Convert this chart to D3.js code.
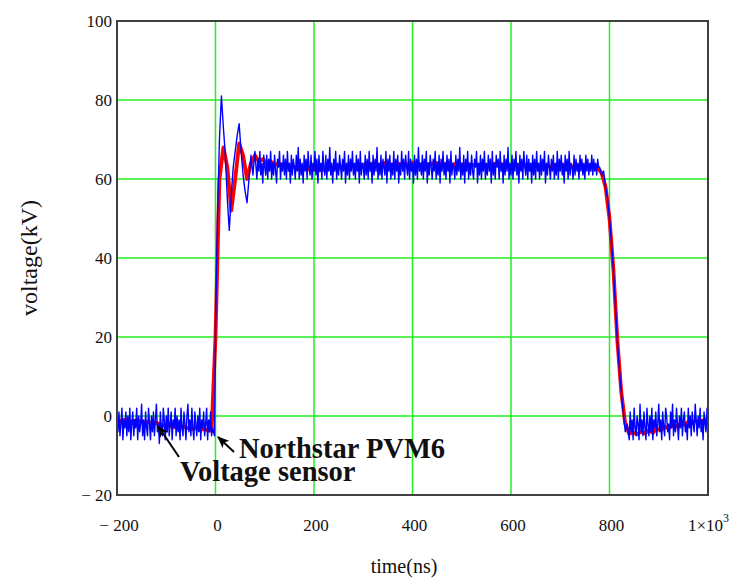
<!DOCTYPE html>
<html><head><meta charset="utf-8">
<script src="https://cdn.jsdelivr.net/npm/d3@7"></script>
<style>body{margin:0;background:#fff}svg{display:block}</style>
</head><body><svg id="c" width="734" height="578"></svg>
<script>
// ---- data (time in ns, voltage in kV) ----
const xTicks = [-200, 0, 200, 400, 600, 800, 1000];
const xTickLabels = ["\u2212 200", "0", "200", "400", "600", "800", "1\u00d710"];
const yTicks = [-20, 0, 20, 40, 60, 80, 100];
const yTickLabels = ["\u2212 20", "0", "20", "40", "60", "80", "100"];
const seriesNames = ["Northstar PVM6", "Voltage sensor"];

// blue: voltage sensor
const bluePre = [ // t = -200 .. -2, every 2 ns
  -1, -4, 1, -5, -2, 2, -6, -1, -3, 1,
  -5, 0, -4, 2, -6, -2, 1, -5, -1, -3,
  2, -6, 0, -4, -2, 3, -5, -1, -6, 1,
  -3, -5, 2, -2, -6, 0, -4, 1, -5, -1,
  3, -4, -2, -7, 1, -3, -5, 2, -1, -6,
  0, -4, 2, -5, -2, 1, -6, -1, -3, 2,
  -5, 0, -4, -1, -6, 2, -3, -5, 1, -2,
  -6, 0, 3, -4, -1, -5, 2, -3, -6, 1,
  -2, -5, 0, -4, 2, -6, -1, -3, 1, -5,
  -2, 2, -6, -1, -4, 1, -5, -3, -4, -5];
const blueRise = [ // t = 0 .. 80, every 4 ns
  22, 50, 70, 81, 73, 66, 55, 47, 56, 63, 67, 71, 74, 67, 61, 57, 54, 60, 66, 61, 67];
const bluePlateau = [ // t = 84 .. 778, every 2 ns
  60, 65, 62, 67, 61, 64, 59, 66, 63, 61,
  66, 60, 65, 62, 67, 60, 64, 61, 66, 62,
  59, 65, 63, 67, 60, 64, 62, 66, 61, 65,
  60, 67, 62, 64, 59, 66, 61, 65, 63, 60,
  66, 62, 68, 60, 65, 61, 64, 59, 66, 62,
  65, 60, 67, 63, 61, 66, 60, 64, 62, 67,
  61, 65, 59, 66, 62, 64, 60, 67, 63, 61,
  66, 60, 65, 62, 68, 61, 64, 59, 65, 62,
  67, 60, 64, 61, 66, 63, 60, 65, 62, 67,
  59, 64, 61, 66, 60, 65, 62, 67, 61, 64,
  60, 66, 62, 65, 59, 67, 61, 64, 63, 60,
  66, 61, 65, 60, 67, 62, 64, 59, 66, 61,
  65, 62, 68, 60, 64, 61, 66, 60, 65, 63,
  61, 67, 59, 65, 62, 66, 60, 64, 61, 67,
  60, 65, 62, 66, 59, 64, 61, 67, 62, 65,
  60, 66, 63, 61, 67, 60, 65, 62, 64, 59,
  66, 61, 65, 60, 68, 62, 64, 61, 66, 60,
  65, 62, 67, 59, 64, 61, 66, 63, 60, 65,
  62, 67, 60, 64, 61, 66, 59, 65, 62, 67,
  61, 64, 60, 66, 62, 65, 59, 67, 61, 64,
  63, 60, 66, 61, 65, 62, 68, 60, 64, 61,
  66, 59, 65, 62, 67, 60, 64, 61, 66, 62,
  60, 65, 63, 67, 59, 64, 61, 66, 60, 65,
  62, 67, 60, 64, 61, 66, 62, 65, 59, 67,
  61, 64, 60, 66, 63, 65, 60, 67, 62, 64,
  59, 66, 61, 65, 62, 68, 60, 64, 61, 66,
  60, 65, 62, 67, 61, 64, 59, 66, 62, 65,
  60, 67, 63, 61, 66, 60, 65, 62, 64, 59,
  66, 61, 65, 60, 67, 62, 64, 60, 66, 61,
  65, 62, 67, 59, 64, 61, 66, 63, 60, 65,
  62, 66, 60, 64, 61, 67, 60, 65, 62, 66,
  61, 64, 59, 66, 62, 65, 60, 67, 61, 64,
  63, 60, 66, 61, 65, 62, 64, 60, 66, 62,
  65, 61, 64, 60, 66, 62, 65, 61, 64, 62,
  66, 61, 65, 62, 64, 61, 65, 63];
const blueFall = [ // t = 780 .. 840, every 4 ns
  63, 61, 62, 58, 55, 50, 44, 37, 28, 19, 12, 6, 1, -4, -2, -6];
const blueTail = [ // t = 842 .. 1000, every 2 ns
  1, -4, -1, -6, 2, -3, -5, 0, -2, -6,
  3, -4, -1, -5, 1, -3, -6, 2, -2, -5,
  0, -4, 2, -6, -1, -3, 1, -5, -2, 3,
  -4, -1, -6, 1, -3, -5, 2, 0, -4, -2,
  -6, 1, -3, 3, -5, -1, -4, 2, -2, -6,
  0, -3, 2, -5, -1, 1, -4, -2, -6, 2,
  -3, 0, -5, 1, -2, -4, 3, -1, -5, 0,
  -3, 2, -4, -1, -6, 1, -2, -4, 2, -3];

// red: Northstar PVM6, every 8 ns
const redPre = [ // t = -200 .. -8
  -1, -1.3, -0.9, -1.2, -1.5, -1, -1.4, -1.8, -1.5, -2, -1.7, -2.2, -2.5,
  -2.2, -2.6, -2.9, -3, -2.7, -3.1, -3.3, -3, -3.5, -3.3, -3.6, -3.8];
const redRise = [ // t = 0 .. 80
  20, 60, 68, 63, 52, 60, 69, 66, 60, 64, 66];
const redPlateau = [ // t = 88 .. 776
  64.5, 65, 64, 64.5, 63.5, 64, 63.5, 63.8,
  63.2, 63, 62.5, 63, 62.8, 62.3, 62.7, 62, 62.5, 62.2, 62.8, 63, 62.5, 63.2, 63, 63.5, 63.2, 63.6, 63.4,
  63.8, 63.5, 64, 63.7, 63.5, 64.1, 63.8, 63.6, 64, 63.7, 63.9, 63.5, 64.2, 63.8, 63.6, 64, 63.7, 63.9, 64.1, 63.6, 63.8, 64, 63.5, 63.9, 63.7,
  63.6, 63.9, 63.4, 63.7, 63.5, 63.8, 63.3, 63.6, 63.9, 63.4, 63.7, 63.5, 63.2, 63.6, 63.4, 63.8, 63.3, 63.5, 63.7, 63.2, 63.6, 63.4, 63.1, 63.5, 63.3, 63.6, 63.2, 63.4, 63, 63.3, 63.5, 63.1, 63.3, 63, 62.8];
const redFall = [ // t = 784 .. 840
  61.5, 58, 50, 37, 19, 6, -2, -4.5];
const redTail = [ // t = 848 .. 1000
  -4.2, -4.6, -4, -4.4, -3.6, -4.3, -3.2, -3.6, -2.8, -3, -2.4, -2.7, -2, -2.2, -1.5, -1.8, -1.2, -1.4, -1, -0.8];

// ---- build point lists ----
function seg(start, step, vals) { return vals.map((v, i) => ({t: start + i * step, v})); }
const blueData = [].concat(
  seg(-200, 2, bluePre), seg(0, 4, blueRise), seg(84, 2, bluePlateau),
  seg(780, 4, blueFall), seg(842, 2, blueTail));
const redData = [].concat(
  seg(-200, 8, redPre), seg(0, 8, redRise), seg(88, 8, redPlateau),
  seg(784, 8, redFall), seg(848, 8, redTail));

// ---- drawing ----
const svg = d3.select("#c");
const L = 117, R = 708, T = 21, B = 495;
const x = d3.scaleLinear().domain([-200, 1000]).range([L, R]);
const y = d3.scaleLinear().domain([-20, 100]).range([B, T]);
const serif = "'Liberation Serif','Times New Roman',serif";

const defs = svg.append("defs");
defs.append("clipPath").attr("id", "clip")
  .append("rect").attr("x", L).attr("y", T).attr("width", R - L).attr("height", B - T);

// grid
const g = svg.append("g");
g.selectAll("line.vx").data(xTicks.slice(1, -1)).enter().append("line")
  .attr("x1", d => x(d)).attr("x2", d => x(d)).attr("y1", T).attr("y2", B)
  .attr("stroke", "#22ee22").attr("stroke-width", 1.5);
g.selectAll("line.hy").data(yTicks.slice(1, -1)).enter().append("line")
  .attr("y1", d => y(d)).attr("y2", d => y(d)).attr("x1", L).attr("x2", R)
  .attr("stroke", "#22ee22").attr("stroke-width", 1.5);

const line = d3.line().x(d => x(d.t)).y(d => y(d.v));
const plot = svg.append("g").attr("clip-path", "url(#clip)");
plot.append("path").datum(redData).attr("d", line)
  .attr("fill", "none").attr("stroke", "#ff0000").attr("stroke-width", 3.8).attr("stroke-linejoin", "round");
plot.append("path").datum(blueData).attr("d", line)
  .attr("fill", "none").attr("stroke", "#0000ff").attr("stroke-width", 1.4).attr("stroke-linejoin", "round");

// frame
svg.append("rect").attr("x", L).attr("y", T).attr("width", R - L).attr("height", B - T)
  .attr("fill", "none").attr("stroke", "#404040").attr("stroke-width", 2);

// y tick labels
svg.selectAll("text.yl").data(yTicks).enter().append("text")
  .attr("x", L - 5).attr("y", d => y(d) + 6).attr("text-anchor", "end")
  .attr("font-family", serif).attr("font-size", 17).attr("fill", "#111")
  .text((d, i) => yTickLabels[i]);

// x tick labels
xTicks.forEach((d, i) => {
  const t = svg.append("text").attr("y", 531)
    .attr("font-family", serif).attr("font-size", 17).attr("fill", "#111");
  if (i === xTicks.length - 1) {
    t.attr("x", x(d) - 20).attr("text-anchor", "start");
    t.append("tspan").text(xTickLabels[i]);
    t.append("tspan").attr("dy", -9).attr("font-size", 12).text("3");
  } else {
    t.attr("x", x(d) + 2).attr("text-anchor", "middle").text(xTickLabels[i]);
  }
});

// axis titles
svg.append("text").attr("x", 404).attr("y", 573).attr("text-anchor", "middle")
  .attr("font-family", serif).attr("font-size", 20).attr("fill", "#111").text("time(ns)");
svg.append("text").attr("transform", "translate(37,258) rotate(-90)").attr("text-anchor", "middle")
  .attr("font-family", serif).attr("font-size", 24).attr("fill", "#111").text("voltage(kV)");

// annotations
const mk = defs.append("marker").attr("id", "arr")
  .attr("viewBox", "0 0 12 10").attr("refX", 11).attr("refY", 5)
  .attr("markerWidth", 12).attr("markerHeight", 10).attr("markerUnits", "userSpaceOnUse")
  .attr("orient", "auto");
mk.append("path").attr("d", "M0,0 L12,5 L0,10 L3,5 Z").attr("fill", "#000");

svg.append("line").attr("x1", 234).attr("y1", 452).attr("x2", 218).attr("y2", 437)
  .attr("stroke", "#000").attr("stroke-width", 2).attr("marker-end", "url(#arr)");
svg.append("line").attr("x1", 179).attr("y1", 457).attr("x2", 158).attr("y2", 426)
  .attr("stroke", "#000").attr("stroke-width", 2).attr("marker-end", "url(#arr)");

svg.append("text").attr("x", 239).attr("y", 458)
  .attr("font-family", serif).attr("font-weight", "bold").attr("font-size", 28.5).attr("fill", "#111")
  .text(seriesNames[0]);
svg.append("text").attr("x", 180).attr("y", 481)
  .attr("font-family", serif).attr("font-weight", "bold").attr("font-size", 28.5).attr("fill", "#111")
  .text(seriesNames[1]);
</script></body></html>
